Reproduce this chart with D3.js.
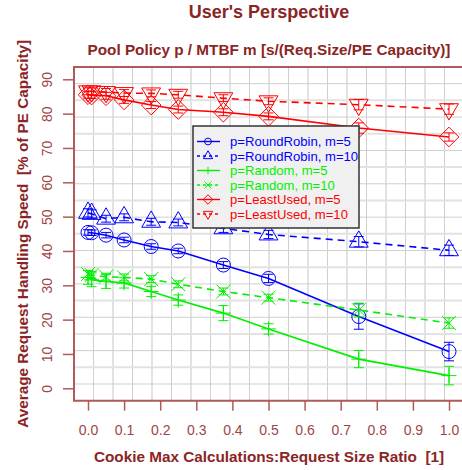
<!DOCTYPE html>
<html>
<head>
<meta charset="utf-8">
<script src="https://cdn.jsdelivr.net/npm/d3@7"></script>
<style>
  body { margin: 0; background: #fff; }
  svg text { font-family: "Liberation Sans", Arial, sans-serif; }
</style>
</head>
<body>
<div id="chart"></div>
<script>
// request size ratios (x positions)
let ratios = [0, 0.01, 0.05, 0.1, 0.175, 0.25, 0.375, 0.5, 0.75, 1.0];

// average request handling speed per series, with error half-widths
let rr5 = [45.4, 45.3, 44.6, 43.2, 41.3, 40.0, 35.9, 32.0, 20.9, 10.7];
let rr5Err = [0.8, 0.8, 0.8, 0.8, 0.8, 0.8, 1.0, 1.2, 3.7, 2.7];
let rr10 = [51.1, 50.8, 49.4, 49.8, 48.5, 48.3, 46.6, 44.8, 42.7, 40.2];
let rr10Err = [1.2, 1.2, 1.0, 1.0, 1.0, 1.0, 1.2, 1.2, 1.5, 1.5];
let rnd5 = [32.3, 31.6, 31.1, 30.7, 28.2, 25.7, 21.9, 17.3, 8.5, 3.7];
let rnd5Err = [2.0, 2.0, 2.0, 1.5, 1.5, 1.5, 2.2, 1.5, 2.5, 2.7];
let rnd10 = [33.3, 33.0, 32.5, 32.3, 31.8, 30.3, 28.2, 26.4, 22.8, 19.0];
let rnd10Err = [1.0, 1.0, 1.0, 1.0, 1.0, 1.0, 1.0, 1.0, 2.0, 1.5];
let lu5 = [85.5, 85.4, 85.2, 84.0, 82.5, 81.2, 80.4, 79.2, 75.8, 73.2];
let lu5Err = [1.0, 1.0, 1.0, 1.0, 1.0, 1.0, 1.0, 1.0, 1.5, 1.2];
let lu10 = [86.5, 86.5, 86.3, 86.0, 85.9, 85.5, 84.5, 83.6, 82.6, 81.3];
let lu10Err = [1.0, 1.0, 1.0, 1.0, 1.0, 1.0, 1.0, 1.0, 1.5, 1.5];

let seriesNames = ["p=RoundRobin, m=5", "p=RoundRobin, m=10", "p=Random, m=5",
                   "p=Random, m=10", "p=LeastUsed, m=5", "p=LeastUsed, m=10"];
let xTicks = [0, 0.1, 0.2, 0.3, 0.4, 0.5, 0.6, 0.7, 0.8, 0.9, 1.0];
let yTicks = [0, 10, 20, 30, 40, 50, 60, 70, 80, 90];

let series = [
  { name: seriesNames[0], values: rr5, err: rr5Err, color: "#0000ff", dash: null, marker: "circle" },
  { name: seriesNames[1], values: rr10, err: rr10Err, color: "#0000ff", dash: "7,5", marker: "triUp" },
  { name: seriesNames[2], values: rnd5, err: rnd5Err, color: "#00f000", dash: null, marker: "plus" },
  { name: seriesNames[3], values: rnd10, err: rnd10Err, color: "#00f000", dash: "7,5", marker: "cross" },
  { name: seriesNames[4], values: lu5, err: lu5Err, color: "#ff0000", dash: null, marker: "diamond" },
  { name: seriesNames[5], values: lu10, err: lu10Err, color: "#ff0000", dash: "7,5", marker: "triDown" }
];

let width = 462, height = 470;
let axisColor = "#b05a5a";
let titleColor = "#8b2525";
let labelColor = "#a04545";

// plot area (right edge runs off the page like the original)
let plotLeft = 74, plotTop = 67, plotBottom = 400.7, plotRight = 464;

let x = d3.scaleLinear().domain([0, 1]).range([88, 449]);
let y = d3.scaleLinear().domain([0, 90]).range([388.3, 79.3]);

let svg = d3.select("#chart").append("svg")
  .attr("width", width)
  .attr("height", height);

// background grid, 20 divisions each way
let gridX = d3.range(1, 20).map(i => plotLeft + i * (plotRight - plotLeft) / 20);
let gridY = d3.range(1, 20).map(i => plotTop + i * (plotBottom - plotTop) / 20);
let grid = svg.append("g");
grid.selectAll(".gx").data(gridX).enter().append("line")
  .attr("x1", d => d).attr("x2", d => d)
  .attr("y1", plotTop).attr("y2", plotBottom)
  .attr("stroke", (d, i) => i % 2 ? "#e2e2e2" : "#cfcfcf")
  .attr("stroke-width", (d, i) => i % 2 ? 2 : 1);
grid.selectAll(".gy").data(gridY).enter().append("line")
  .attr("y1", d => d).attr("y2", d => d)
  .attr("x1", plotLeft).attr("x2", plotRight)
  .attr("stroke", (d, i) => i % 2 ? "#e2e2e2" : "#cfcfcf")
  .attr("stroke-width", (d, i) => i % 2 ? 2 : 1);

// frame
let frame = svg.append("g").attr("stroke", axisColor).attr("stroke-width", 2).attr("fill", "none");
frame.append("path")
  .attr("d", "M" + plotRight + "," + plotTop + "H" + plotLeft + "V" + plotBottom + "H" + plotRight);

// axes
let yAxis = d3.axisLeft(y).tickValues(yTicks).tickSize(11).tickPadding(0).tickFormat(d3.format("d"));
let gy = svg.append("g").attr("transform", "translate(" + plotLeft + ",0)").call(yAxis);
gy.select(".domain").remove();
gy.selectAll(".tick line").attr("stroke", axisColor).attr("stroke-width", 1.5);
gy.selectAll(".tick text")
  .attr("fill", labelColor)
  .style("font-size", "14px")
  .attr("text-anchor", "middle")
  .attr("x", 0).attr("dy", 0)
  .attr("transform", "translate(-22,0) rotate(-90)");

let xAxis = d3.axisBottom(x).tickValues(xTicks).tickSize(10).tickPadding(0).tickFormat(d3.format(".1f"));
let gx = svg.append("g").attr("transform", "translate(0," + plotBottom + ")").call(xAxis);
gx.select(".domain").remove();
gx.selectAll(".tick line").attr("stroke", axisColor).attr("stroke-width", 1.5);
gx.selectAll(".tick text")
  .attr("fill", labelColor)
  .style("font-size", "14px")
  .attr("y", 34).attr("dy", 0);

// titles
let cx = (plotLeft + plotRight) / 2;
svg.append("text").attr("x", cx).attr("y", 18)
  .attr("text-anchor", "middle").attr("fill", titleColor)
  .style("font-size", "18px").style("font-weight", "bold")
  .text("User's Perspective");
svg.append("text").attr("x", cx).attr("y", 55)
  .attr("text-anchor", "middle").attr("fill", titleColor)
  .style("font-size", "15.3px").style("font-weight", "bold")
  .text("Pool Policy p / MTBF m [s/(Req.Size/PE Capacity)]");
svg.append("text").attr("x", cx).attr("y", 462)
  .attr("text-anchor", "middle").attr("fill", titleColor)
  .style("font-size", "15.3px").style("font-weight", "bold")
  .attr("xml:space", "preserve")
  .text("Cookie Max Calculations:Request Size Ratio  [1]");
svg.append("text")
  .attr("transform", "translate(28," + ((plotTop + plotBottom) / 2) + ") rotate(-90)")
  .attr("text-anchor", "middle").attr("fill", titleColor)
  .style("font-size", "15.3px").style("font-weight", "bold")
  .attr("xml:space", "preserve")
  .text("Average Request Handling Speed  [% of PE Capacity]");

// marker shapes
function markerPath(type, s) {
  if (type === "circle") {
    return "M" + s + ",0A" + s + "," + s + " 0 1,1 " + (-s) + ",0A" + s + "," + s + " 0 1,1 " + s + ",0Z";
  }
  if (type === "triUp") {
    let r = s * 1.555, hw = s * 1.347, yc = s * 0.778;
    return "M0," + (-r) + "L" + hw + "," + yc + "L" + (-hw) + "," + yc + "Z";
  }
  if (type === "triDown") {
    let r = s * 1.555, hw = s * 1.347, yc = s * 0.778;
    return "M0," + r + "L" + hw + "," + (-yc) + "L" + (-hw) + "," + (-yc) + "Z";
  }
  if (type === "diamond") {
    let d = s * 1.4;
    return "M0," + (-d) + "L" + d + ",0L0," + d + "L" + (-d) + ",0Z";
  }
  if (type === "plus") {
    let d = s * 1.07;
    return "M" + (-d) + ",0H" + d + "M0," + (-d) + "V" + d;
  }
  if (type === "cross") {
    return "M" + (-s) + "," + (-s) + "L" + s + "," + s + "M" + (-s) + "," + s + "L" + s + "," + (-s);
  }
}

let line = d3.line()
  .x(d => x(d[0]))
  .y(d => y(d[1]));

let plot = svg.append("g");
series.forEach(function(s) {
  let pts = ratios.map((r, i) => [r, s.values[i], s.err[i]]);
  let g = plot.append("g").attr("stroke", s.color).attr("fill", "none");
  g.append("path")
    .attr("d", line(pts))
    .attr("stroke-width", 1.6)
    .attr("stroke-dasharray", s.dash);
  // error bars
  g.selectAll(".err").data(pts).enter().append("path")
    .attr("stroke-width", 1)
    .attr("d", d => {
      let px = x(d[0]), lo = y(d[1] - d[2]), hi = y(d[1] + d[2]);
      return "M" + px + "," + lo + "V" + hi +
        "M" + (px - 5) + "," + lo + "H" + (px + 5) +
        "M" + (px - 5) + "," + hi + "H" + (px + 5);
    });
  g.selectAll(".mk").data(pts).enter().append("path")
    .attr("stroke-width", 1)
    .attr("transform", d => "translate(" + x(d[0]) + "," + y(d[1]) + ")")
    .attr("d", markerPath(s.marker, 7));
});

// legend
let legendX = 193, legendY = 126, legendW = 166, legendH = 102;
let legend = svg.append("g");
legend.append("rect")
  .attr("x", legendX).attr("y", legendY)
  .attr("width", legendW).attr("height", legendH)
  .attr("fill", "#f0f0f0").attr("stroke", "#333").attr("stroke-width", 1.5);
let rows = legend.selectAll(".row").data(series).enter().append("g")
  .attr("transform", (d, i) => "translate(" + legendX + "," + (legendY + 15.5 + i * 14.5) + ")");
rows.append("line")
  .attr("x1", 4).attr("x2", 27)
  .attr("stroke", d => d.color).attr("stroke-width", 1.4)
  .attr("stroke-dasharray", d => d.dash ? "3,3" : null);
rows.append("path")
  .attr("transform", "translate(15,0)")
  .attr("d", d => markerPath(d.marker, 3.4))
  .attr("fill", "none").attr("stroke", d => d.color).attr("stroke-width", 1);
rows.append("text")
  .attr("x", 37).attr("y", 4.5)
  .attr("fill", d => d.color)
  .style("font-size", "13.1px")
  .text(d => d.name);
</script>
</body>
</html>
